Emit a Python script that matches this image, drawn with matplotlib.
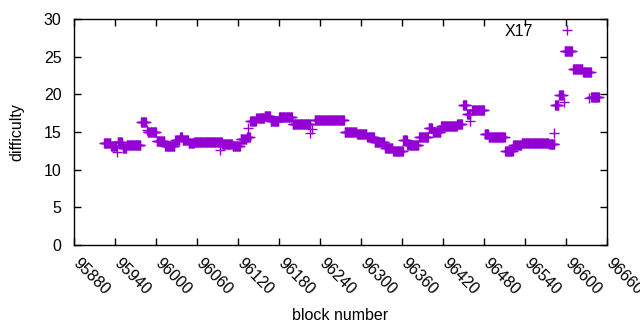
import numpy as np
import matplotlib
matplotlib.use("Agg")
import matplotlib.pyplot as plt
import matplotlib.transforms as mtransforms

# runs of (nearly) constant difficulty: first block, last block, value
run_first = [95924, 95934, 95944, 95951, 95957, 95978, 95988, 96001, 96013, 96028,
             96035, 96039, 96048, 96056, 96097, 96112, 96124, 96133, 96138, 96147,
             96159, 96168, 96180, 96200, 96232, 96276, 96294, 96309, 96320, 96335,
             96347, 96362, 96368, 96385, 96399, 96405, 96417, 96441, 96449, 96455,
             96463, 96481, 96487, 96511, 96523, 96535, 96575, 96584, 96590, 96598,
             96610, 96625, 96637]
run_last = [95933, 95941, 95950, 95956, 95977, 95985, 96000, 96012, 96027, 96034,
            96038, 96047, 96055, 96096, 96111, 96123, 96132, 96137, 96146, 96158,
            96167, 96179, 96199, 96226, 96275, 96293, 96308, 96319, 96334, 96346,
            96361, 96367, 96384, 96398, 96404, 96416, 96440, 96448, 96454, 96460,
            96480, 96486, 96510, 96522, 96534, 96574, 96583, 96589, 96595, 96609,
            96624, 96636, 96648]
run_value = [13.5, 13.1, 13.7, 12.9, 13.3, 16.3, 15.0, 13.8, 13.1, 13.9,
             14.3, 13.9, 13.6, 13.7, 13.4, 13.2, 14.1, 14.4, 16.5, 16.9,
             17.1, 16.5, 17.0, 16.1, 16.6, 15.0, 14.7, 14.3, 13.7, 12.9,
             12.5, 13.9, 13.3, 14.3, 15.5, 15.0, 15.8, 16.1, 18.6, 17.4,
             17.9, 14.7, 14.3, 12.5, 13.3, 13.6, 13.4, 18.6, 19.9, 25.8,
             23.4, 23.0, 19.7]

# isolated points
out_block = [95943, 95987, 96094, 96135, 96226, 96229, 96460, 96582, 96597, 96634]
out_value = [12.3, 15.3, 12.6, 15.5, 14.9, 15.4, 16.5, 14.9, 19.0, 19.5]

blocks = []
diff = []
for a, b, v in zip(run_first, run_last, run_value):
    for blk in range(a, b + 1):
        blocks.append(blk)
        diff.append(v)
blocks = np.array(blocks + out_block)
diff = np.array(diff + out_value)

plt.rcParams["font.family"] = ["Liberation Sans", "DejaVu Sans"]
plt.rcParams["font.size"] = 11.5

fig = plt.figure(figsize=(6.4, 3.3), dpi=100)
ax = fig.add_axes([74 / 640, 85 / 330, 533 / 640, 226 / 330])

color = "#9400d3"
ax.plot(blocks, diff, linestyle="none", marker="+", markersize=6.5,
        markeredgewidth=1.0, color=color, label="X17")

ax.set_xlim(95880, 96660)
ax.set_ylim(0, 30)
ax.set_xticks(np.arange(95880, 96661, 60))
ax.set_yticks(np.arange(0, 31, 5))
ax.tick_params(direction="in", length=5, top=True, right=True, width=1)
ax.tick_params(axis="y", pad=9)
ax.tick_params(axis="x", pad=0)
# gnuplot-style rotated labels hanging from the tick
shift = mtransforms.ScaledTranslation(7 / 100, -11 / 100, fig.dpi_scale_trans)
for lbl in ax.get_xticklabels():
    lbl.set_rotation(-45)
    lbl.set_ha("left")
    lbl.set_va("top")
    lbl.set_rotation_mode("anchor")
    lbl.set_transform(lbl.get_transform() + shift)
for s in ax.spines.values():
    s.set_linewidth(1)

ax.set_xlabel("block number", va="center")
ax.xaxis.set_label_coords(0.5, (245 - 315) / 226)
ax.set_ylabel("difficulty", va="center")
ax.yaxis.set_label_coords((17 - 74) / 533, 0.5)

ax.legend(loc="upper right", frameon=False, markerfirst=False, borderpad=0,
          handlelength=4.4, handletextpad=-0.08, borderaxespad=0.3)

fig.savefig("out.png", dpi=100)
